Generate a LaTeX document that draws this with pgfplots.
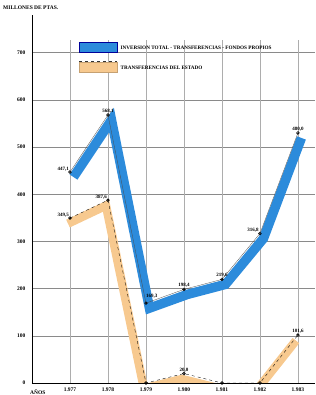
\documentclass[border=0pt]{standalone}
\usepackage{fontspec}
\setmainfont{Liberation Serif}
\usepackage{pgfplots}
\pgfplotsset{compat=1.18}
\usetikzlibrary{calc}
\definecolor{bandblue}{HTML}{2C8BDB}
\definecolor{bandorange}{HTML}{F7C98F}
\definecolor{gridc}{HTML}{8A8A8A}
\begin{document}
\begin{tikzpicture}[font=\fontsize{5}{6}\selectfont\bfseries]
\begin{axis}[
  name=ax,
  scale only axis,
  width=283pt, height=368pt,
  xmin=1976, xmax=1983.45,
  ymin=0, ymax=780,
  axis x line*=bottom, axis y line*=left,
  axis line style={black, line width=0.6pt, -},
  xtick={1977,...,1983},
  xticklabels={1.977,1.978,1.979,1.980,1.981,1.982,1.983},
  ytick={0,100,...,700},
  ymajorgrids,
  grid style={gridc, line width=0.5pt},
  major tick length=0pt,
  tick label style={font=\fontsize{5.5}{6}\selectfont\bfseries},
  /pgf/number format/assume math mode=true,
  yticklabel style={xshift=-3pt},
  xticklabel style={yshift=-1pt},
  clip mode=global,
]
% vertical grid lines
\addplot[ycomb, no marks, gridc!70, line width=0.4pt] coordinates {
 (1977,728) (1978,728) (1979,728) (1980,728) (1981,728) (1982,728) (1983,728)};
% orange band (shifted)
\addplot[draw=bandorange, line width=8.5pt, line join=miter, no marks, xshift=-2pt, yshift=-5.5pt] coordinates {
 (1977,349.5) (1978,387.6) (1979,0) (1980,20.0) (1981,0) (1982,0) (1983,101.6)};
\addplot[black, dashed, line width=0.35pt, mark=oplus, mark size=1.6pt, mark options={solid, fill=white}] coordinates {
 (1977,349.5) (1978,387.6) (1979,0) (1980,20.0) (1981,0) (1982,0) (1983,101.6)};
% blue band (shifted)
\addplot[draw=bandblue, line width=9.5pt, line join=miter, no marks, xshift=3.5pt, yshift=-5pt] coordinates {
 (1977,447.1) (1978,568.1) (1979,169.3) (1980,198.4) (1981,219.6) (1982,316.8) (1983,530)};
\addplot[black!70, line width=0.3pt, mark=oplus, mark size=1.6pt, mark options={solid, black, fill=white}] coordinates {
 (1977,447.1) (1978,568.1) (1979,169.3) (1980,198.4) (1981,219.6) (1982,316.8) (1983,530)};
% value labels
\node[anchor=south east, inner sep=1pt] at (axis cs:1977,447.1) {447,1};
\node[anchor=south, inner sep=1.5pt] at (axis cs:1978,568.1) {568,1};
\node[anchor=south west, inner sep=1pt, yshift=4pt, xshift=-1pt] at (axis cs:1979,169.3) {169,3};
\node[anchor=south, inner sep=1.5pt] at (axis cs:1980,198.4) {198,4};
\node[anchor=south, inner sep=1.5pt] at (axis cs:1981,219.6) {219,6};
\node[anchor=south east, inner sep=1pt] at (axis cs:1982,316.8) {316,8};
\node[anchor=south, inner sep=1.5pt] at (axis cs:1983,530) {480,0};
\node[anchor=south east, inner sep=1pt] at (axis cs:1977,349.5) {349,5};
\node[anchor=south east, inner sep=1pt] at (axis cs:1978,387.6) {387,6};
\node[anchor=south, inner sep=1.5pt] at (axis cs:1980,20.0) {20,0};
\node[anchor=south, inner sep=1.5pt] at (axis cs:1983,101.6) {101,6};
% legend
\filldraw[fill=bandblue, draw=blue!60!black, line width=0.5pt] (axis cs:1977.24,700) rectangle (axis cs:1978.24,722);
\node[anchor=west, inner sep=1pt] at (axis cs:1978.3,711) {\fontsize{5.2}{6}\selectfont INVERSION TOTAL - TRANSFERENCIAS - FONDOS PROPIOS};
\filldraw[fill=bandorange, draw=bandorange!80!black, line width=0.4pt] (axis cs:1977.24,658) rectangle (axis cs:1978.24,681);
\draw[black!80, dashed, line width=0.5pt] (axis cs:1977.24,681) -- (axis cs:1978.24,681);
\node[anchor=west, inner sep=1pt] at (axis cs:1978.3,669) {\fontsize{5.2}{6}\selectfont TRANSFERENCIAS DEL ESTADO};
\end{axis}
\node[anchor=south west, inner sep=0pt] at ($(ax.north west)+(-29pt,5pt)$) {\fontsize{5.5}{6}\selectfont MILLONES DE PTAS.};
\node[anchor=west, inner sep=0pt] at ($(ax.south west)+(-2pt,-9pt)$) {\fontsize{5.5}{6}\selectfont AÑOS};
\pgfresetboundingbox
\path ($(ax.south west)+(-32pt,-12pt)$) rectangle ($(ax.north east)+(0pt,15pt)$);
\end{tikzpicture}
\end{document}
